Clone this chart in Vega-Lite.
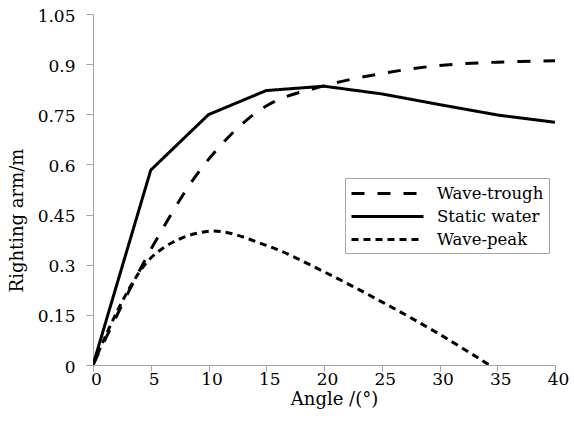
{
  "$schema": "https://vega.github.io/schema/vega-lite/v6.json",
  "width": 462,
  "height": 351,
  "autosize": {"type": "none"},
  "padding": {"left": 93, "top": 14, "right": 19, "bottom": 65},
  "background": "white",
  "config": {
    "view": {"stroke": null},
    "font": "DejaVu Serif",
    "axis": {
      "grid": false,
      "domainColor": "#a6a6a6",
      "tickColor": "#a6a6a6",
      "domainWidth": 1,
      "tickWidth": 1,
      "labelFont": "DejaVu Serif",
      "labelFontSize": 17,
      "labelColor": "#000000",
      "titleFont": "DejaVu Serif",
      "titleFontSize": 18,
      "titleFontWeight": "normal",
      "titleColor": "#000000"
    },
    "legend": {
      "labelFont": "DejaVu Serif",
      "labelFontSize": 16.5,
      "labelColor": "#000000"
    }
  },
  "data": {
    "values": [
      {"angle": 0, "arm": 0, "series": "Wave-trough"},
      {"angle": 5, "arm": 0.345, "series": "Wave-trough"},
      {"angle": 10, "arm": 0.615, "series": "Wave-trough"},
      {"angle": 15, "arm": 0.775, "series": "Wave-trough"},
      {"angle": 20, "arm": 0.835, "series": "Wave-trough"},
      {"angle": 25, "arm": 0.872, "series": "Wave-trough"},
      {"angle": 30, "arm": 0.896, "series": "Wave-trough"},
      {"angle": 35, "arm": 0.906, "series": "Wave-trough"},
      {"angle": 40, "arm": 0.910, "series": "Wave-trough"},
      {"angle": 0, "arm": 0, "series": "Static water"},
      {"angle": 5, "arm": 0.583, "series": "Static water"},
      {"angle": 10, "arm": 0.749, "series": "Static water"},
      {"angle": 15, "arm": 0.821, "series": "Static water"},
      {"angle": 20, "arm": 0.834, "series": "Static water"},
      {"angle": 25, "arm": 0.811, "series": "Static water"},
      {"angle": 30, "arm": 0.779, "series": "Static water"},
      {"angle": 35, "arm": 0.748, "series": "Static water"},
      {"angle": 40, "arm": 0.726, "series": "Static water"},
      {"angle": 0, "arm": 0, "series": "Wave-peak"},
      {"angle": 5, "arm": 0.32, "series": "Wave-peak"},
      {"angle": 10, "arm": 0.40, "series": "Wave-peak"},
      {"angle": 15, "arm": 0.358, "series": "Wave-peak"},
      {"angle": 20, "arm": 0.279, "series": "Wave-peak"},
      {"angle": 25, "arm": 0.189, "series": "Wave-peak"},
      {"angle": 30, "arm": 0.092, "series": "Wave-peak"},
      {"angle": 35, "arm": -0.015, "series": "Wave-peak"}
    ]
  },
  "encoding": {
    "x": {
      "field": "angle",
      "type": "quantitative",
      "scale": {"domain": [0, 40], "nice": false},
      "axis": {
        "title": "Angle /(°)",
        "values": [0, 5, 10, 15, 20, 25, 30, 35, 40],
        "format": "d",
        "tickSize": 6,
        "labelPadding": 0,
        "labelFlush": false,
        "labelOffset": 3,
        "titleX": 241,
        "titleY": 39,
        "titleBaseline": "alphabetic",
        "titleAnchor": null
      }
    },
    "y": {
      "field": "arm",
      "type": "quantitative",
      "scale": {"domain": [0, 1.05], "nice": false, "zero": false},
      "axis": {
        "title": "Righting arm/m",
        "values": [0, 0.15, 0.3, 0.45, 0.6, 0.75, 0.9, 1.05],
        "format": ".2~f",
        "tickSize": 7,
        "labelPadding": 11,
        "labelFlush": false,
        "labelOffset": 2,
        "titleX": -71,
        "titleY": 206,
        "titleAngle": -90,
        "titleAlign": "center",
        "titleBaseline": "alphabetic"
      }
    },
    "strokeDash": {
      "field": "series",
      "type": "nominal",
      "scale": {
        "domain": ["Wave-trough", "Static water", "Wave-peak"],
        "range": [[13, 13], [1, 0], [7, 5]]
      },
      "legend": {
        "title": null,
        "orient": "none",
        "legendX": 252,
        "legendY": 164,
        "symbolType": "M-4,0H4",
        "symbolSize": 324,
        "symbolOffset": 27,
        "symbolStrokeWidth": 3,
        "symbolStrokeColor": "#000000",
        "symbolFillColor": "transparent",
        "labelOffset": 39,
        "rowPadding": 4,
        "padding": 5,
        "strokeColor": "#a6a6a6",
        "fillColor": "#ffffff",
        "cornerRadius": 0
      }
    }
  },
  "layer": [
    {
      "transform": [{"filter": "datum.series === 'Static water'"}],
      "mark": {"type": "line", "color": "#000000", "strokeWidth": 3, "interpolate": "linear", "clip": true}
    },
    {
      "transform": [{"filter": "datum.series !== 'Static water'"}],
      "mark": {"type": "line", "color": "#000000", "strokeWidth": 3, "interpolate": "catmull-rom", "clip": true}
    }
  ]
}
